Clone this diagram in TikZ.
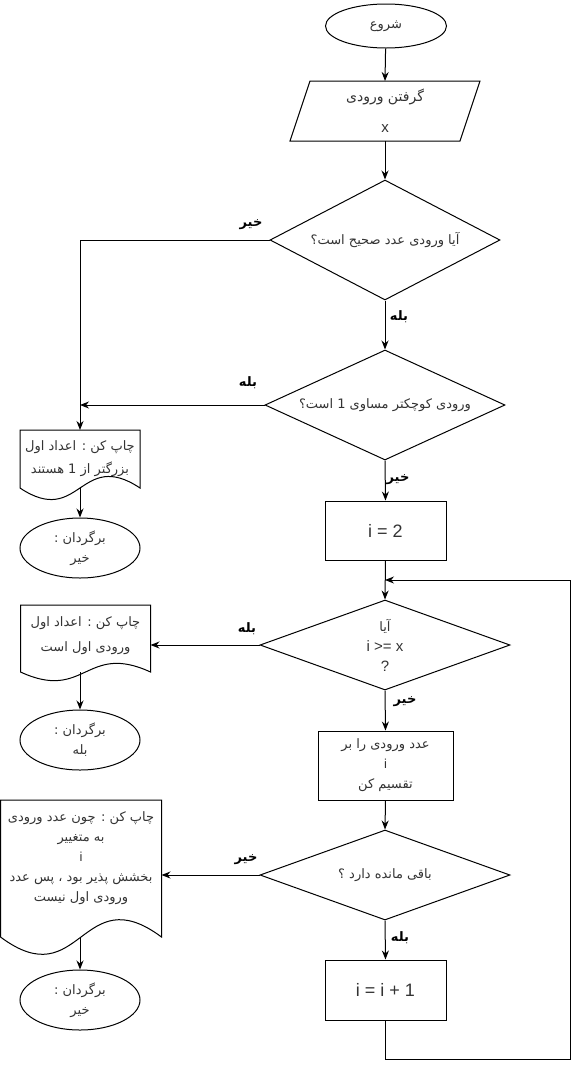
\documentclass[tikz,border=0pt]{standalone}
\usepackage{fontspec}
\setmainfont{Liberation Sans}
\newfontfamily\arabicfont[Script=Arabic]{DejaVu Sans}
\TeXXeTstate=1
\usetikzlibrary{shapes.geometric,arrows.meta,calc}
\newcommand{\fatext}[1]{{\arabicfont\beginR #1\endR}}
\newcommand{\docoutline}[4]{%
  \draw[line width=1pt] ($(#1.north west)+(0,-#2)$) -- ($(#1.north east)+(0,-#2)$) -- ($(#1.south east)+(0,#3)$)
    .. controls ($(#1.south)+(0,#3-#4)$) and ($(#1.south)+(0,#3+#4)$) .. ($(#1.south west)+(0,#3)$) -- cycle;
  \coordinate (#1-bot) at ($(#1.south)+(0,#3)$);
  \coordinate (#1-top) at ($(#1.north)+(0,-#2)$);
}
\tikzset{
  txt/.style={text=black!80, font=\fontsize{13}{20}\selectfont, align=center},
  base/.style={txt, draw, line width=1pt},
  term/.style={base, ellipse, minimum width=120pt, minimum height=60pt, inner sep=0pt},
  proc/.style={base, rectangle, inner sep=0pt},
  dec/.style={base, diamond, inner sep=0pt},
  docn/.style={txt, inner sep=0pt, outer sep=0pt},
  arr/.style={-{Stealth[length=9pt,width=7pt]}, line width=1pt},
  ln/.style={line width=1pt},
  lbl/.style={font=\fontsize{13}{14}\selectfont\bfseries, inner sep=0pt}
}
\begin{document}
\begin{tikzpicture}[x=1pt,y=-1pt]
\useasboundingbox (0,0) rectangle (579,1069);

% nodes
\node[term, minimum width=121pt, minimum height=44pt, font=\fontsize{13}{20}\selectfont] (start) at (386,26) {\fatext{شروع}};
\node[txt, inner sep=0pt, outer sep=0pt, minimum width=190pt, minimum height=60pt, font=\fontsize{14}{16}\selectfont] (in) at (385,111) {\fatext{گرفتن ورودی}\\[15pt]{\fontsize{15}{16}\selectfont x}};
\draw[ln] ($(in.north west)+(20,0)$) -- (in.north east) -- ($(in.south east)+(-20,0)$) -- (in.south west) -- cycle;

\node[dec, shape aspect=1.917, minimum width=230pt, minimum height=120pt] (d1) at (385,240) {\fatext{آیا ورودی عدد صحیح است؟}};
\node[dec, shape aspect=2.18, minimum width=240pt, minimum height=110pt] (d2) at (385,405) {\fatext{ورودی کوچکتر مساوی 1 است؟}};

\node[docn, minimum width=120pt, minimum height=58pt] (doc1) at (80,459) {\fatext{چاپ کن : اعداد اول}\\[3pt]\fatext{بزرگتر از 1 هستند}};
\docoutline{doc1}{0}{0}{40}
\node[term] (e2) at (80,548) {\fatext{برگردان :}\\\fatext{خیر}};

\node[proc, minimum width=121pt, minimum height=59pt, font=\fontsize{18}{20}\selectfont] (r1) at (385.5,530.5) {i = 2};

\node[dec, shape aspect=2.78, minimum width=250pt, minimum height=90pt] (d3) at (385,645) {\fatext{آیا}\\{\fontsize{15}{20}\selectfont i >= x}\\{\fontsize{15}{20}\selectfont ?}};

\node[docn, minimum width=130pt, minimum height=62pt] (doc2) at (85.5,636) {\fatext{چاپ کن : اعداد اول}\\[5pt]\fatext{ورودی اول است}};
\docoutline{doc2}{0}{5}{30}
\node[term] (e3) at (80,740) {\fatext{برگردان :}\\\fatext{بله}};

\node[proc, minimum width=135pt, minimum height=69pt] (r2) at (385.5,765.5) {\fatext{عدد ورودی را بر}\\i\\\fatext{تقسیم کن}};

\node[dec, shape aspect=2.78, minimum width=250pt, minimum height=90pt] (d4) at (385,875) {\fatext{باقی مانده دارد ؟}};

\node[docn, minimum width=161pt, minimum height=100pt] (doc3) at (81,858) {\fatext{چاپ کن : چون عدد ورودی}\\\fatext{به متغییر}\\i\\\fatext{بخشش پذیر بود ، پس عدد}\\\fatext{ورودی اول نیست}};
\docoutline{doc3}{8}{29}{60}
\node[term] (e4) at (80,1000) {\fatext{برگردان :}\\\fatext{خیر}};

\node[proc, minimum width=121pt, minimum height=60pt, font=\fontsize{18}{20}\selectfont] (r3) at (385.5,990) {i = i + 1};

\coordinate (join) at (385,580);
\coordinate (loopc) at (570,1059);

% connectors
\draw[arr] (start) -- (in.north);
\draw[arr] (in.south) -- (d1.north);
\draw[arr] (d1.west) -| (doc1-top);
\draw[arr] (d1.south) -- (d2.north);
\draw[arr] (d2.west) -- (d2.west -| doc1-top);
\draw[arr] (doc1-bot) -- (e2.north);
\draw[arr] (d2.south) -- (r1.north);
\draw[arr] (r1.south) -- (d3.north);
\draw[arr] (d3.west) -- (d3.west -| doc2.east);
\draw[arr] (e3.north |- doc2-bot) -- (e3.north);
\draw[arr] (d3.south) -- (r2.north);
\draw[arr] (r2.south) -- (d4.north);
\draw[arr] (d4.west) -- (d4.west -| doc3.east);
\draw[arr] (e4.north |- doc3-bot) -- (e4.north);
\draw[arr] (d4.south) -- (r3.north);
\draw[arr] (r3.south) |- (loopc) |- (join);

% labels
\node[lbl] (l1) at (251,225) {\fatext{خیر}};
\node[lbl] (l2) at (399,317) {\fatext{بله}};
\node[lbl] (l3) at (248,383) {\fatext{بله}};
\node[lbl] (l4) at (398,480) {\fatext{خیر}};
\node[lbl] (l5) at (247,629) {\fatext{بله}};
\node[lbl] (l6) at (405,702) {\fatext{خیر}};
\node[lbl] (l7) at (246,860) {\fatext{خیر}};
\node[lbl] (l8) at (400,938) {\fatext{بله}};
\end{tikzpicture}
\end{document}
